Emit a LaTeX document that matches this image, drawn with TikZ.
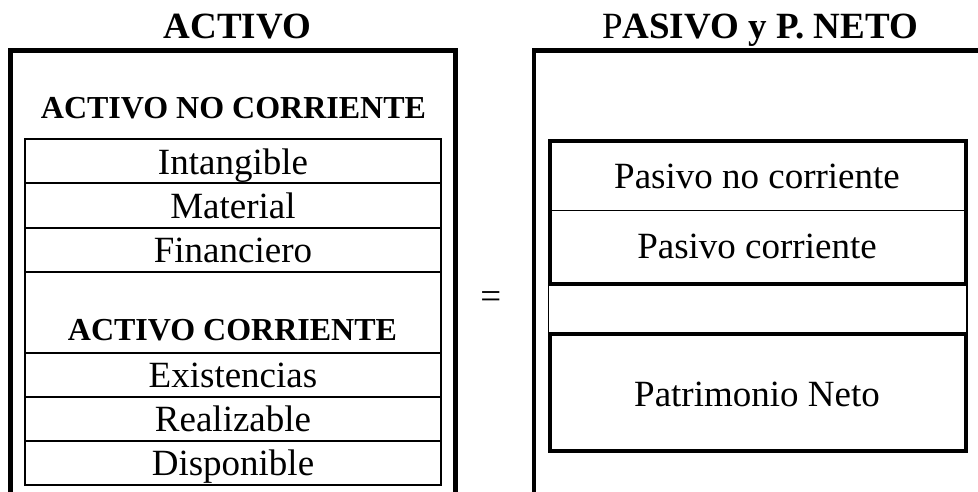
\documentclass[tikz,border=0pt]{standalone}
\usepackage{fontspec}
\setmainfont{Liberation Serif}
\begin{document}
\begin{tikzpicture}[x=1pt,y=-1pt,
  frame/.style={line width=4.3pt},
  lcell/.style={draw, line width=2pt, minimum width=415.7pt, inner sep=0pt},
  thickbox/.style={draw, line width=4pt, minimum width=415.7pt, inner sep=0pt},
  thinline/.style={line width=1.4pt},
  lbl/.style={anchor=base, inner sep=0pt, font=\fontsize{37}{40}\selectfont},
  hdr/.style={anchor=base, inner sep=0pt, font=\fontsize{32}{36}\selectfont\bfseries},
  ttl/.style={anchor=base, inner sep=0pt, font=\fontsize{37}{40}\selectfont\bfseries}]
\useasboundingbox (0,0) rectangle (978,491);
\clip (0,0) rectangle (978,491);

% titles
\node[ttl] (tact) at (237.5,38) {ACTIVO};
\node[ttl] (tpas) at (760,38) {{\mdseries P}ASIVO y P. NETO};

% outer frames (open at the bottom)
\draw[frame] (10.5,500) -- (10.5,50.5) -- (455.5,50.5) -- (455.5,500);
\draw[frame] (534,500) -- (534,50.5) -- (990,50.5);

% left table
\node[hdr] (anc) at (233.5,118) {ACTIVO NO CORRIENTE};
\node[lcell, minimum height=43.5pt] (c1) at (233.15,160.95) {};
\node[lcell, minimum height=45pt]   (c2) at (233.15,205.2) {};
\node[lcell, minimum height=44pt]   (c3) at (233.15,249.7) {};
\node[lcell, minimum height=81pt]   (c4) at (233.15,312.2) {};
\node[lcell, minimum height=44.6pt] (c5) at (233.15,375) {};
\node[lcell, minimum height=43.7pt] (c6) at (233.15,419.15) {};
\node[lcell, minimum height=44.3pt] (c7) at (233.15,463.15) {};

\node[lbl] (t1) at (233,174) {Intangible};
\node[lbl] (t2) at (233,218) {Material};
\node[lbl] (t3) at (233,262) {Financiero};
\node[hdr] (t4) at (232.5,340) {ACTIVO CORRIENTE};
\node[lbl] (t5) at (233,387) {Existencias};
\node[lbl] (t6) at (233,431) {Realizable};
\node[lbl] (t7) at (233,475) {Disponible};

% equals sign
\node[lbl] (eq) at (490.7,308) {=};

% right table
\node[thickbox, minimum height=142.4pt] (pasivo) at (758.15,212.5) {};
\draw[thinline] (pasivo.west |- 0,210.7) -- (pasivo.east |- 0,210.7);
\node[thickbox, minimum height=117.6pt] (pn) at (758.15,392.5) {};
\draw[thinline] (pasivo.south west) -- (pn.north west);
\draw[thinline] ([xshift=-1pt]pasivo.south east) -- ([xshift=-1pt]pn.north east);

\node[lbl] (r1) at (757,188) {Pasivo no corriente};
\node[lbl] (r2) at (757,258) {Pasivo corriente};
\node[lbl] (r3) at (757,406) {Patrimonio Neto};
\end{tikzpicture}
\end{document}
